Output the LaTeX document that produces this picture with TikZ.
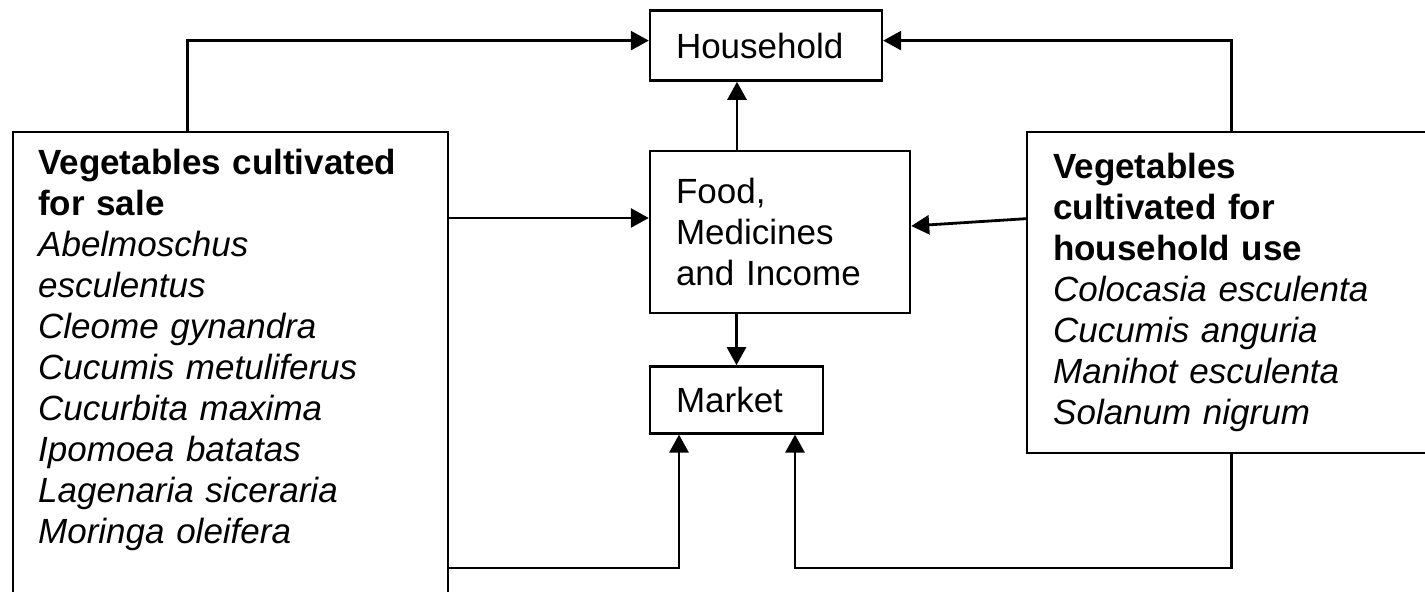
\documentclass[tikz,border=0pt]{standalone}
\usepackage{fontspec}
\setmainfont{Liberation Sans}
\usetikzlibrary{arrows.meta,positioning}

\begin{document}
\begin{tikzpicture}[x=0.5pt, y=-0.5pt, box/.style={draw, line width=1.2pt, align=left, inner xsep=13pt, inner ysep=8.5pt, font=\fontsize{17.5pt}{20.5pt}\selectfont}, arr/.style={-{Triangle[length=9pt, width=9.5pt]}, line width=1.4pt}]
    \useasboundingbox (0,0) rectangle (1425,592);
    \clip (0,0) rectangle (1425,592);
    \node[box, text width=104pt, minimum height=81pt] (food) at (780,232) {Food,\\Medicines\\and Income};
    \node[box, text width=90pt, minimum height=35pt, above right=34pt and 0pt of food.north west] (hh) {Household};
    \node[box, text width=60.5pt, minimum height=33.5pt, below right=25.5pt and 0pt of food.south west] (mkt) {Market};
    \node[box, text width=192.5pt, inner xsep=12.5pt, anchor=north west] (sale) at (12,131) {\textbf{Vegetables cultivated}\\\textbf{for sale}\\\textit{Abelmoschus}\\\textit{esculentus}\\\textit{Cleome gynandra}\\\textit{Cucumis metuliferus}\\\textit{Cucurbita maxima}\\\textit{Ipomoea batatas}\\\textit{Lagenaria siceraria}\\\textit{Moringa oleifera}\\[20pt]\mbox{}};
    \node[box, text width=180pt, minimum height=160.5pt, anchor=north west] (home) at (1026,131) {\textbf{Vegetables}\\\textbf{cultivated for}\\\textbf{household use}\\\textit{Colocasia esculenta}\\\textit{Cucumis anguria}\\\textit{Manihot esculenta}\\\textit{Solanum nigrum}};
    \coordinate (bot) at (0,568);
    \draw[arr] ([xshift=-21.75pt]sale.north) |- ([yshift=2.5pt]hh.west);
    \draw[arr] ([xshift=-1pt]home.north) |- ([yshift=2.5pt]hh.east);
    \draw[arr] ([xshift=-21.5pt]food.north) coordinate (fu) -- (fu |- hh.south);
    \draw[arr] ([yshift=7pt]food.west -| sale.east) -- ([yshift=7pt]food.west);
    \draw[arr] ([yshift=37pt]home.west) -- ([yshift=3pt]food.east);
    \draw[arr] (food.south -| mkt.north) -- (mkt.north);
    \draw[arr] (sale.east |- bot) -| ([xshift=-28.75pt]mkt.south);
    \draw[arr] ([xshift=-1pt]home.south) -- ([xshift=-1pt]home.south |- bot) -| ([xshift=29.25pt]mkt.south);
  \end{tikzpicture}
\end{document}
